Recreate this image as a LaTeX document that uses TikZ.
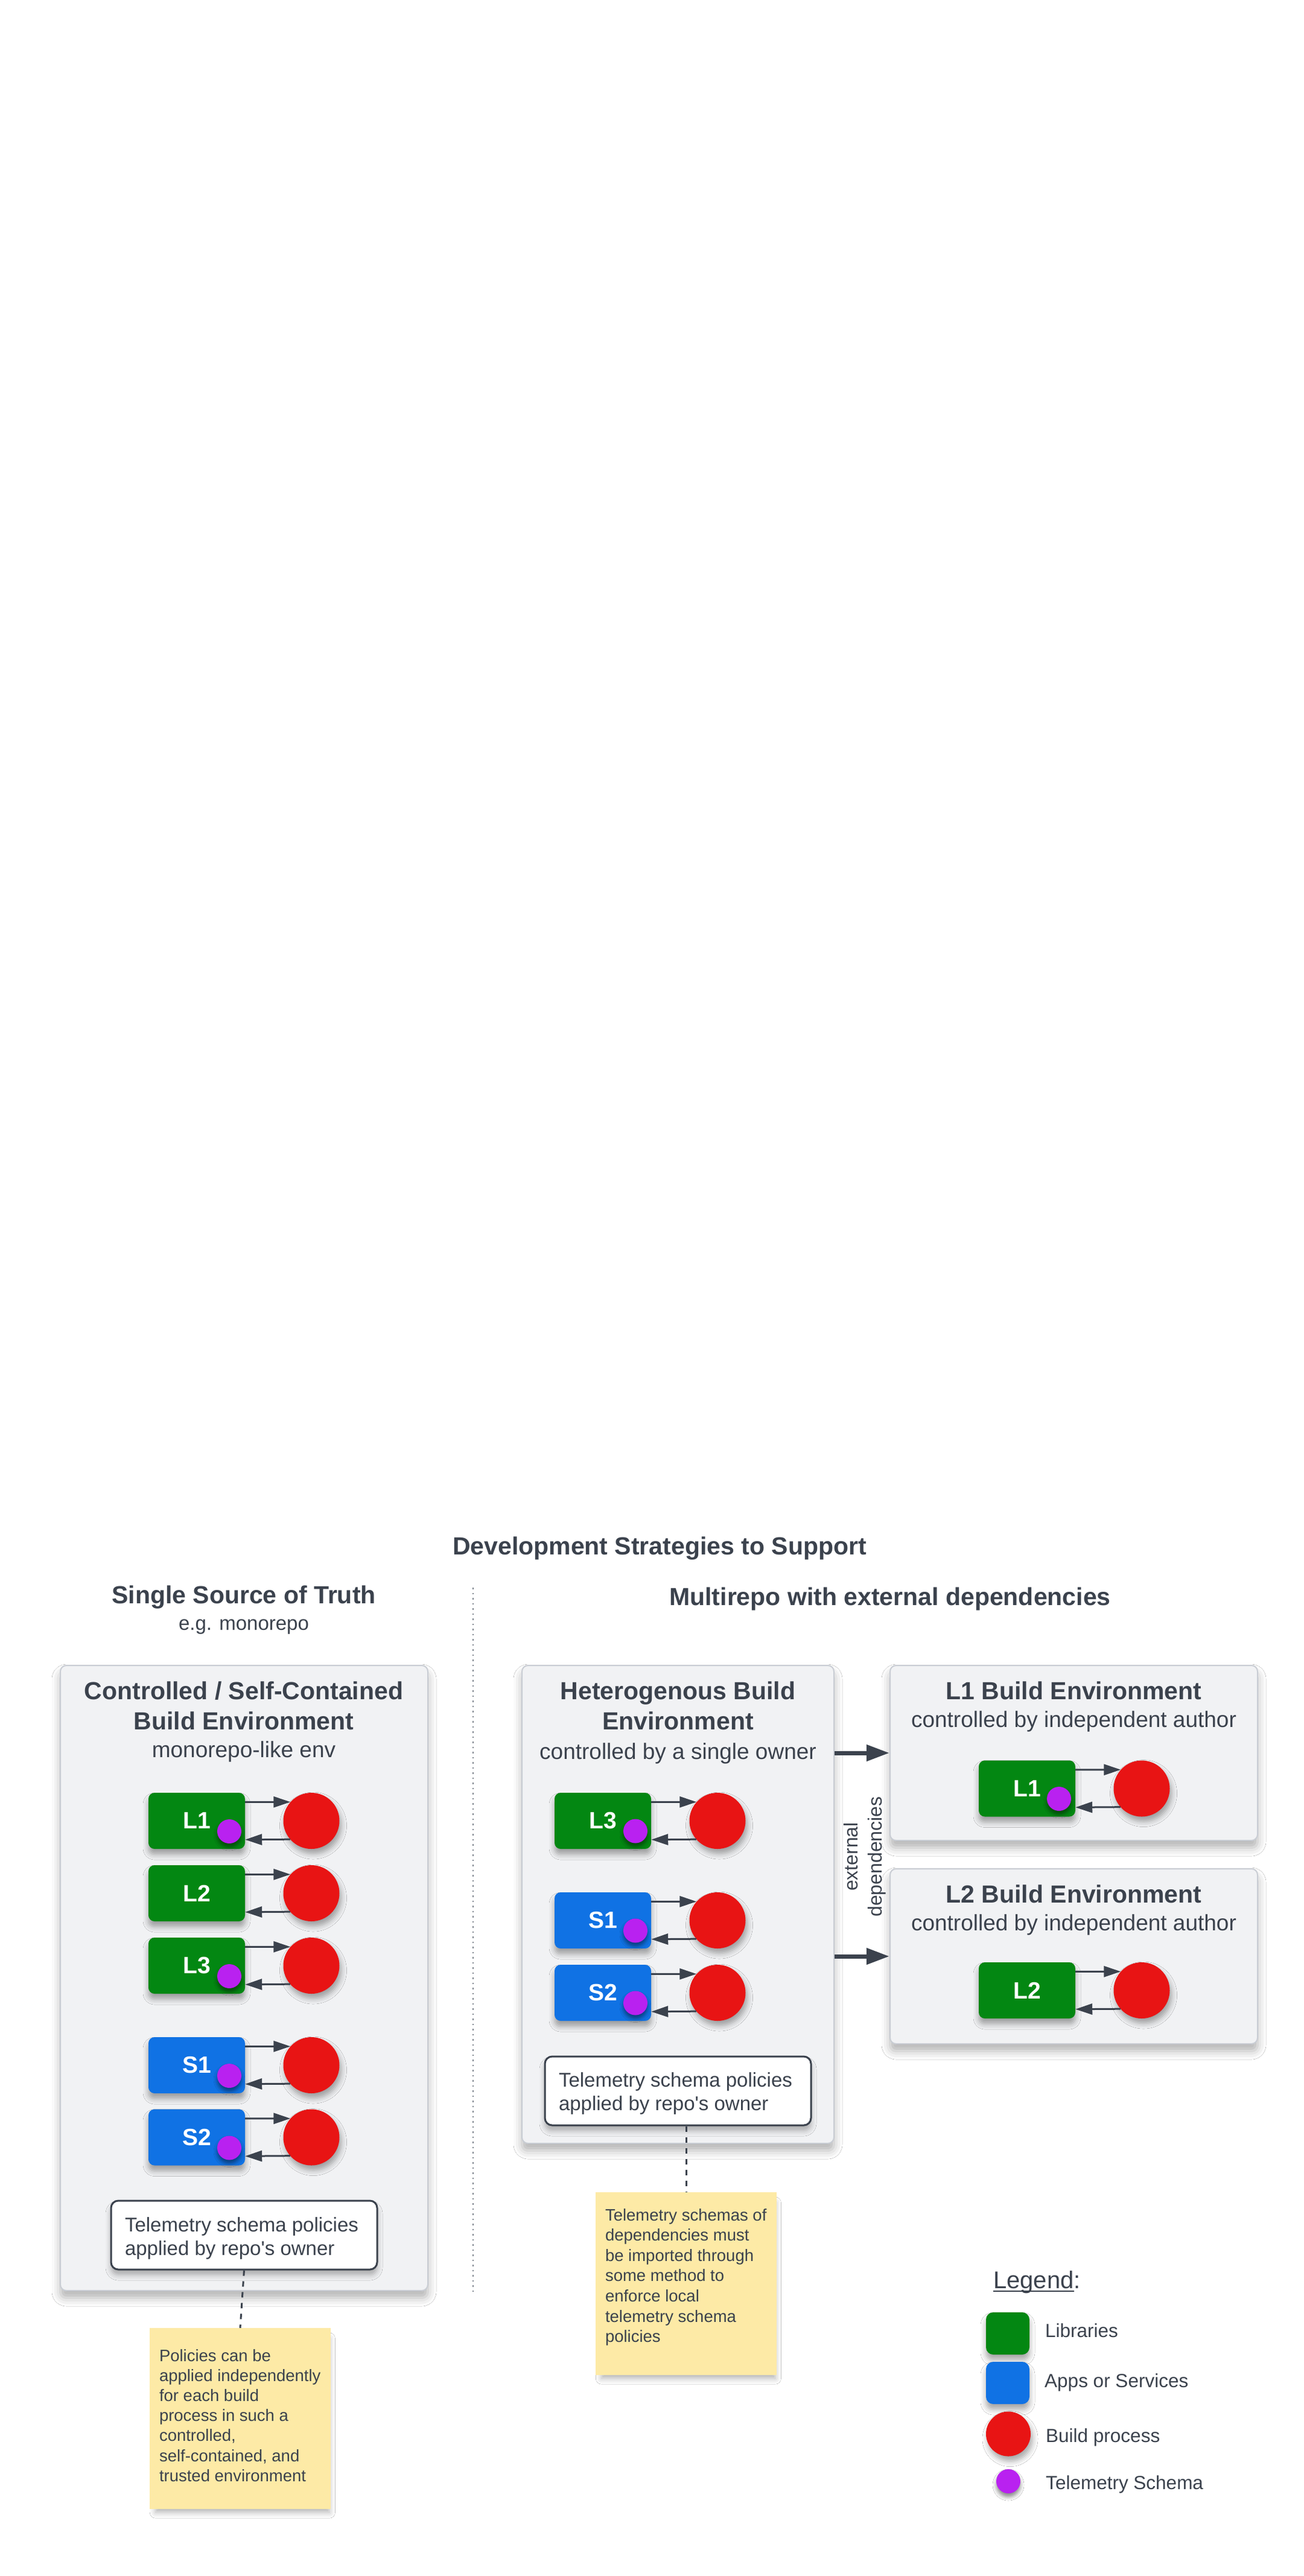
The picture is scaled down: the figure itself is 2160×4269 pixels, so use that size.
\documentclass[tikz,border=0pt]{standalone}
\usepackage{fontspec}
\newfontfamily\lsans{Liberation Sans}
\usetikzlibrary{arrows.meta,shadows.blur}
\definecolor{ink}{RGB}{59,66,77}
\definecolor{libgreen}{RGB}{3,135,18}
\definecolor{appblue}{RGB}{16,114,228}
\definecolor{procred}{RGB}{232,20,20}
\definecolor{telpurple}{RGB}{185,33,240}
\definecolor{envfill}{RGB}{241,242,244}
\definecolor{envline}{RGB}{201,205,212}
\definecolor{stickyyellow}{RGB}{253,234,166}
\definecolor{dotgray}{RGB}{130,136,145}
\newcommand\fsz[2]{\lsans\fontsize{#1pt}{#2pt}\selectfont}
\newcommand\myuline[1]{\setbox0\hbox{#1}\rlap{\rule[-6pt]{\wd0}{2.5pt}}\box0}
\begin{document}
\begin{tikzpicture}[x=1pt,y=-1pt,
  txt/.style={text=ink,inner sep=0pt,anchor=base},
  bigtitle/.style={txt,font=\bfseries\fsz{41}{48}},
  subtitle/.style={txt,font=\fsz{37}{44}},
  envbox/.style={draw=envline,line width=2pt,fill=envfill,rounded corners=10pt,inner sep=0pt,
    blur shadow={shadow xshift=0pt,shadow yshift=-12pt,shadow blur radius=14pt,shadow opacity=30}},
  blockbase/.style={rounded corners=10pt,minimum width=160pt,minimum height=93pt,inner sep=0pt,
    text=white,font=\bfseries\fsz{39}{46},
    blur shadow={shadow xshift=0pt,shadow yshift=-9pt,shadow blur radius=9pt,shadow opacity=35}},
  lib/.style={blockbase,fill=libgreen},
  app/.style={blockbase,fill=appblue},
  proc/.style={circle,fill=procred,minimum size=93pt,inner sep=0pt,
    blur shadow={shadow xshift=3pt,shadow yshift=-8pt,shadow blur radius=9pt,shadow opacity=35}},
  tel/.style={circle,fill=telpurple,minimum size=40pt,inner sep=0pt,
    blur shadow={shadow xshift=0pt,shadow yshift=-6pt,shadow blur radius=6pt,shadow opacity=45}},
  sarr/.style={draw=ink,line width=3pt,-{Triangle[length=28pt,width=18pt]}},
  barr/.style={draw=ink,line width=7pt,-{Triangle[length=38pt,width=26pt]}},
  polbox/.style={draw=ink,line width=3pt,fill=white,rounded corners=12pt,inner sep=0pt,text=ink,
    blur shadow={shadow xshift=0pt,shadow yshift=-9pt,shadow blur radius=9pt,shadow opacity=30}},
  sticky/.style={fill=stickyyellow,inner sep=0pt,text=ink,
    blur shadow={shadow xshift=4pt,shadow yshift=-12pt,shadow blur radius=10pt,shadow opacity=30,shadow scale=0.96}},
  dashl/.style={draw=ink,line width=3pt,dash pattern=on 9pt off 9pt},
  dotl/.style={draw=dotgray,line width=2.5pt,dash pattern=on 2.5pt off 6pt},
  legtxt/.style={text=ink,inner sep=0pt,anchor=base west,font=\fsz{31.5}{38}},
]
\useasboundingbox (0,0) rectangle (2160,4269);
\fill[white] (0,0) rectangle (2160,4269);

% ---- headings ----
\node[bigtitle] (title) at (1093,2576) {Development Strategies to Support};
\node[bigtitle] (ssot) at (404,2657) {Single Source of Truth};
\node[txt,font=\fsz{33}{40}] (ssotsub) at (404,2701) {e.g. monorepo};
\node[bigtitle] (multi) at (1475,2660) {Multirepo with external dependencies};

% ---- divider ----
\coordinate (div1) at (784,2631);
\coordinate (div2) at (784,3801);
\draw[dotl] (div1) -- (div2);

% ---- environment boxes ----
\node[envbox,minimum width=609pt,minimum height=1036pt] (envL) at (404.5,3278) {};
\node[envbox,minimum width=517pt,minimum height=792pt] (envH) at (1123.5,3156) {};
\node[envbox,minimum width=609pt,minimum height=290pt] (envA) at (1779.5,2905) {};
\node[envbox,minimum width=609pt,minimum height=290pt] (envB) at (1779.5,3242) {};

\node[bigtitle] (envLt1) at (404,2816) {Controlled / Self-Contained};
\node[bigtitle] (envLt2) at (404,2866) {Build Environment};
\node[subtitle] (envLt3) at (404,2912) {monorepo-like env};

\node[bigtitle] (envHt1) at (1123.5,2816) {Heterogenous Build};
\node[bigtitle] (envHt2) at (1123.5,2866) {Environment};
\node[subtitle] (envHt3) at (1123.5,2915) {controlled by a single owner};

\node[bigtitle] (envAt1) at (1779.5,2816) {L1 Build Environment};
\node[subtitle] (envAt2) at (1779.5,2862) {controlled by independent author};

\node[bigtitle] (envBt1) at (1779.5,3153) {L2 Build Environment};
\node[subtitle] (envBt2) at (1779.5,3199) {controlled by independent author};

% ---- left environment blocks ----
\node[lib] (aL1) at (326,3017.5) {L1};
\node[lib] (aL2) at (326,3137.5) {L2};
\node[lib] (aL3) at (326,3257.5) {L3};
\node[app] (aS1) at (326,3422.5) {S1};
\node[app] (aS2) at (326,3542) {S2};
\node[proc] (aP1) at (516,3017.5) {};
\node[proc] (aP2) at (516,3137.5) {};
\node[proc] (aP3) at (516,3257.5) {};
\node[proc] (aP4) at (516,3422.5) {};
\node[proc] (aP5) at (516,3542) {};
\node[tel] (aT1) at (380,3035) {};
\node[tel] (aT3) at (380,3275) {};
\node[tel] (aT4) at (380,3440) {};
\node[tel] (aT5) at (380,3559.5) {};

% ---- heterogenous environment blocks ----
\node[lib] (hL3) at (999,3017.5) {L3};
\node[app] (hS1) at (999,3182.5) {S1};
\node[app] (hS2) at (999,3302.5) {S2};
\node[proc] (hP1) at (1189,3017.5) {};
\node[proc] (hP2) at (1189,3182.5) {};
\node[proc] (hP3) at (1189,3302.5) {};
\node[tel] (hT1) at (1053,3034.5) {};
\node[tel] (hT2) at (1053,3199.5) {};
\node[tel] (hT3) at (1053,3319.5) {};

% ---- L1 / L2 environments ----
\node[lib] (bL1) at (1702,2964) {L1};
\node[proc] (bP1) at (1892,2964) {};
\node[tel] (bT1) at (1755,2981) {};
\node[lib] (cL2) at (1702,3298.5) {L2};
\node[proc] (cP1) at (1892,3298.5) {};

% ---- build arrows ----
\foreach \r/\p in {aL1/aP1,aL2/aP2,aL3/aP3,aS1/aP4,aS2/aP5,hL3/hP1,hS1/hP2,hS2/hP3,bL1/bP1,cL2/cP1}{
  \draw[sarr] ([yshift=-15.5pt]\r.north east) -- (\p.138.2);
  \draw[sarr] (\p.221.8) -- ([yshift=15.5pt]\r.south east);
}

% ---- external dependency arrows ----
\draw[barr] (envA.west -| envH.east) -- (envA.west);
\draw[barr] (envB.west -| envH.east) -- (envB.west);
\node[text=ink,inner sep=0pt,rotate=90,align=center,font=\fsz{32}{40}] (ext) at (1433,3077) {external\\dependencies};

% ---- policy boxes ----
\node[polbox] (pol1) at (404.5,3704) {\parbox[c][114pt][t]{441pt}{\fsz{33}{39}\raggedright\leftskip=23pt
  \rule{0pt}{51pt}Telemetry schema policies\\applied by repo's owner}};
\node[polbox] (pol2) at (1123.5,3465) {\parbox[c][114pt][t]{441pt}{\fsz{33}{39}\raggedright\leftskip=23pt
  \rule{0pt}{50pt}Telemetry schema policies\\applied by repo's owner}};

% ---- sticky notes ----
\node[sticky] (note1) at (398,4008) {\parbox[c][300pt][t]{300pt}{\fsz{27.5}{33.2}\raggedright\leftskip=16pt
  \rule{0pt}{55pt}Policies can be\\applied independently\\for each build\\process in such a\\controlled,\\self-contained, and\\trusted environment}};
\node[sticky] (note2) at (1137,3784.5) {\parbox[c][303pt][t]{300pt}{\fsz{27.5}{33.6}\raggedright\leftskip=16pt
  \rule{0pt}{47pt}Telemetry schemas of\\dependencies must\\be imported through\\some method to\\enforce local\\telemetry schema\\policies}};

\draw[dashl] (pol1.south) -- (note1.north);
\draw[dashl] (pol2.south -| note2.north) -- (note2.north);

% ---- legend ----
\node[text=ink,inner sep=0pt,anchor=base west,font=\fsz{40}{48}] (legend) at (1646,3792) {\myuline{Legend}:};
\node[lib,minimum width=72pt,minimum height=70pt,rounded corners=12pt] (kLib) at (1670,3867) {};
\node[app,minimum width=72pt,minimum height=70pt,rounded corners=12pt] (kApp) at (1670,3949) {};
\node[proc,minimum size=74pt] (kProc) at (1671,4033.5) {};
\node[tel] (kTel) at (1671,4112) {};
\node[legtxt] (kLibT) at (1732,3873) {Libraries};
\node[legtxt] (kAppT) at (1731,3956) {Apps or Services};
\node[legtxt] (kProcT) at (1733,4047) {Build process};
\node[legtxt] (kTelT) at (1733,4125) {Telemetry Schema};
\end{tikzpicture}
\end{document}
